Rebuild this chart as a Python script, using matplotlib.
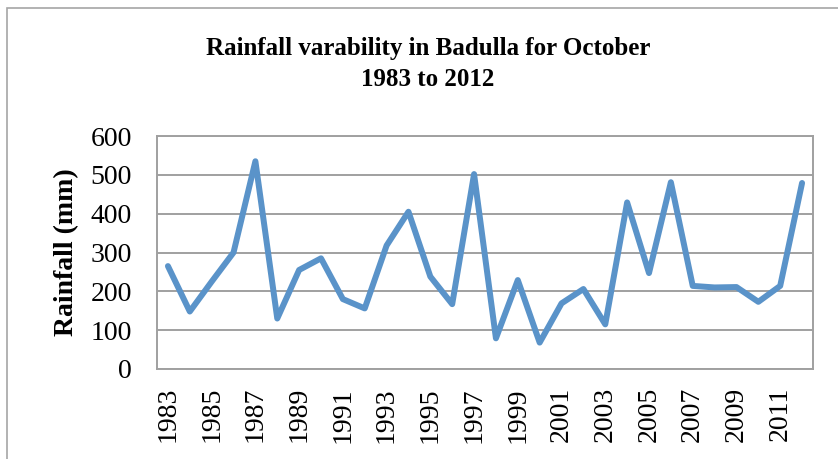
import matplotlib
matplotlib.use("Agg")
import matplotlib.pyplot as plt
from matplotlib.patches import Rectangle

years = list(range(1983, 2013))
rainfall = [265, 148, 225, 300, 535, 130, 255, 285, 180, 156,
            318, 405, 238, 167, 502, 79, 229, 68, 169, 206,
            115, 429, 247, 481, 214, 210, 211, 173, 214, 479]
tick_labels = [str(y) if (y - 1983) % 2 == 0 else "" for y in years]

plt.rcParams['font.family'] = ['Liberation Serif', 'DejaVu Serif']

fig = plt.figure(figsize=(8.38, 4.59), dpi=100)
W, H = 838, 459

# outer chart border
fig.patches.append(Rectangle((7 / W, -0.05), 1.2, 1 - 8 / H + 0.05,
                             transform=fig.transFigure, fill=False,
                             edgecolor='#A6A6A6', linewidth=1.2))

ax = fig.add_axes([157 / W, 1 - 369 / H, (813 - 157) / W, (369 - 136) / H])
x = list(range(len(years)))
ax.plot(x, rainfall, color='#5A93C9', linewidth=4.3, solid_joinstyle='round',
        solid_capstyle='round')

ax.set_xlim(-0.5, len(years) - 0.5)
ax.set_ylim(0, 600)
ax.set_yticks(range(0, 601, 100))
ax.set_xticks(x)
ax.set_xticklabels(tick_labels, rotation=90, fontsize=20)
ax.tick_params(axis='y', labelsize=20, length=0, pad=18)
ax.tick_params(axis='x', length=0, pad=13)
ax.grid(axis='y', color='#A0A0A0', linewidth=1.4)
ax.set_axisbelow(True)
for side in ['top', 'right', 'left', 'bottom']:
    ax.spines[side].set_color('#A0A0A0')
    ax.spines[side].set_linewidth(1.4)

fig.text(67 / W, 1 - 252 / H, "Rainfall (mm)", rotation=90, ha='center', va='center',
         fontsize=20, fontweight='bold')
fig.text(428 / W, 1 - 49 / H, "Rainfall varability in Badulla for October",
         ha='center', va='center', fontsize=18, fontweight='bold')
fig.text(428 / W, 1 - 79 / H, "1983 to 2012",
         ha='center', va='center', fontsize=18, fontweight='bold')

fig.savefig("out.png", dpi=100)
